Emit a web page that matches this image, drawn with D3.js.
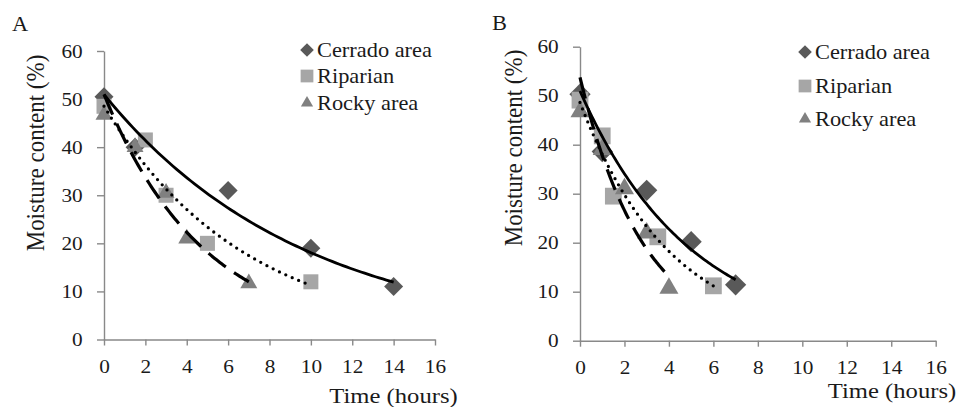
<!DOCTYPE html>
<html>
<head>
<meta charset="utf-8">
<script src="https://cdn.jsdelivr.net/npm/d3@7"></script>
<style>
  body { margin: 0; background: #fff; }
  svg { display: block; }
</style>
</head>
<body>
<div id="chart"></div>
<script>
// data
const seriesNames = ['Cerrado area', 'Riparian', 'Rocky area'];
const xTicks = [0, 2, 4, 6, 8, 10, 12, 14, 16];
const yTicks = [0, 10, 20, 30, 40, 50, 60];

// panel A
const cerradoTimeA = [0, 1.5, 6, 10, 14];
const cerradoMoistA = [50.5, 40, 31, 19, 11];
const riparianTimeA = [0, 2, 3, 5, 10];
const riparianMoistA = [48.5, 41.5, 30, 20, 12];
const rockyTimeA = [0, 1.5, 3, 4, 7];
const rockyMoistA = [46.7, 40, 30.5, 21, 11.7];

// panel B
const cerradoTimeB = [0, 1, 3, 5, 7];
const cerradoMoistB = [50.3, 38.6, 30.7, 20.2, 11.4];
const riparianTimeB = [0, 1, 1.5, 3.5, 6];
const riparianMoistB = [49.1, 41.8, 29.5, 21.2, 11.2];
const rockyTimeB = [0, 1, 2, 3, 4];
const rockyMoistB = [46.7, 39, 31, 22, 10.7];

const W = 962, H = 407;
const SX = 1.12; // the figure's text is a little wide
const FONT = '"Liberation Serif", "Times New Roman", serif';
const INK = '#1a1a1a';

const svg = d3.select('#chart').append('svg').attr('width', W).attr('height', H);
svg.append('rect').attr('width', W).attr('height', H).attr('fill', '#fff');

const markerFill = ['#595959', '#a6a6a6', '#808080'];
const trendDash = [null, '0 7', '22 10'];
const trendWidth = [2.8, 3.3, 3.2];

// exponential trendline, least squares on ln(y) like a spreadsheet does
function expFit(xs, ys) {
  const n = xs.length;
  const ly = ys.map(Math.log);
  const mx = d3.mean(xs), my = d3.mean(ly);
  let sxy = 0, sxx = 0;
  for (let i = 0; i < n; i++) {
    sxy += (xs[i] - mx) * (ly[i] - my);
    sxx += (xs[i] - mx) ** 2;
  }
  const b = sxy / sxx;
  const a = Math.exp(my - b * mx);
  return x => a * Math.exp(b * x);
}

function markerPath(i, s) {
  if (i === 0) return d3.symbol(d3.symbolSquare, 180 * s * s)();
  if (i === 1) return d3.symbol(d3.symbolSquare, 225 * s * s)();
  return d3.symbol(d3.symbolTriangle, 125 * s * s)();
}

function addText(g, transform, size, str, anchor) {
  return g.append('text')
    .attr('transform', transform)
    .attr('text-anchor', anchor || 'start')
    .style('font-family', FONT)
    .style('font-size', size + 'px')
    .attr('fill', INK)
    .text(str);
}

function drawPanel(p) {
  const g = svg.append('g');
  const x = d3.scaleLinear().domain([0, 16]).range([p.left, p.right]);
  const y = d3.scaleLinear().domain([0, 60]).range([p.bottom, p.top]);

  // panel letter
  addText(g, `translate(${p.labelX},${p.labelY}) scale(${SX},1)`, 20, p.label);

  const yAxis = g.append('g')
    .attr('transform', `translate(${p.left},0)`)
    .call(d3.axisLeft(y).tickValues(yTicks).tickSize(7).tickSizeOuter(0).tickPadding(12));
  const xAxis = g.append('g')
    .attr('transform', `translate(0,${p.bottom})`)
    .call(d3.axisBottom(x).tickValues(xTicks).tickSize(6).tickSizeOuter(0).tickPadding(14));

  [yAxis, xAxis].forEach(ax => {
    ax.attr('font-family', null).attr('font-size', null);
    ax.select('.domain').attr('stroke', '#898989').attr('stroke-width', 1.4);
    ax.selectAll('.tick line').attr('stroke', '#898989').attr('stroke-width', 1.4);
    ax.selectAll('.tick text')
      .style('font-family', FONT)
      .style('font-size', '19px')
      .attr('fill', INK)
      .attr('transform', `scale(${SX},1)`);
  });

  // axis titles
  addText(g, `translate(${p.yTitleX},${p.yTitleY}) scale(${SX},1) rotate(-90)`, 23, 'Moisture content (%)', 'middle');
  addText(g, `translate(${p.xTitleX},${p.xTitleY}) scale(${SX},1)`, 22, 'Time (hours)', 'middle');

  // markers
  p.series.forEach((s, i) => {
    const pts = s.t.map((t, k) => [t, s.m[k]]);
    g.append('g').selectAll('path')
      .data(pts)
      .join('path')
      .attr('d', markerPath(i, p.markerScale))
      .attr('fill', markerFill[i])
      .attr('transform', d => `translate(${x(d[0])},${y(d[1])})${i === 0 ? ' rotate(45)' : ''}`);
  });

  // trendlines drawn over the markers
  const line = d3.line().x(d => x(d[0])).y(d => y(d[1]));
  p.series.forEach((s, i) => {
    const f = expFit(s.t, s.m);
    const tMax = d3.max(s.t);
    const curve = d3.range(0, 81).map(k => {
      const t = (tMax * k) / 80;
      return [t, f(t)];
    });
    g.append('path')
      .attr('d', line(curve))
      .attr('fill', 'none')
      .attr('stroke', '#000')
      .attr('stroke-width', trendWidth[i])
      .attr('stroke-linecap', i === 1 ? 'round' : 'butt')
      .attr('stroke-dasharray', trendDash[i]);
  });

  // legend
  seriesNames.forEach((name, i) => {
    const ly = p.legY[i];
    g.append('path')
      .attr('d', markerPath(i, i === 1 ? 0.85 : 0.72))
      .attr('fill', markerFill[i])
      .attr('transform', `translate(${p.legX},${ly - 7})${i === 0 ? ' rotate(45)' : ''}`);
    addText(g, `translate(${p.legTextX},${ly}) scale(${SX},1)`, 20, name);
  });
}

drawPanel({
  label: 'A', labelX: 12, labelY: 31,
  left: 104, right: 435, top: 51, bottom: 339.5,
  yTitleX: 44, yTitleY: 153, xTitleX: 393.5, xTitleY: 403,
  legX: 307, legTextX: 317, legY: [57, 83, 110],
  markerScale: 1,
  series: [
    { t: cerradoTimeA, m: cerradoMoistA },
    { t: riparianTimeA, m: riparianMoistA },
    { t: rockyTimeA, m: rockyMoistA }
  ]
});

drawPanel({
  label: 'B', labelX: 492, labelY: 30,
  left: 580, right: 935.7, top: 46.7, bottom: 340.7,
  yTitleX: 522, yTitleY: 148, xTitleX: 892, xTitleY: 398,
  legX: 805, legTextX: 815, legY: [59, 93, 126],
  markerScale: 1.12,
  series: [
    { t: cerradoTimeB, m: cerradoMoistB },
    { t: riparianTimeB, m: riparianMoistB },
    { t: rockyTimeB, m: rockyMoistB }
  ]
});
</script>
</body>
</html>
